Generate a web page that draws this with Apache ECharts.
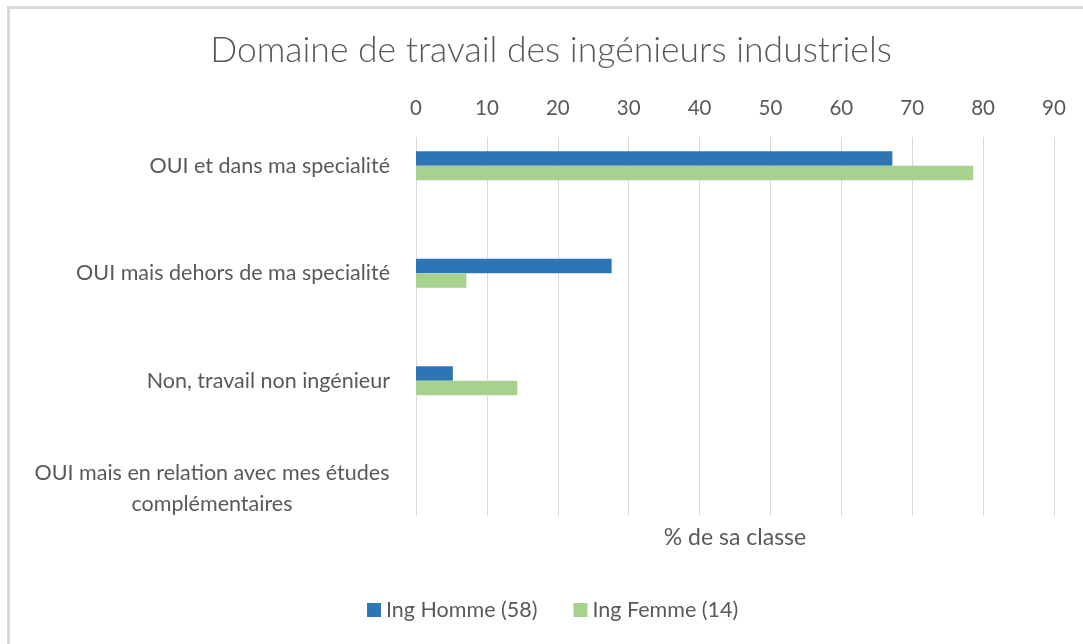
<!DOCTYPE html>
<html>
<head>
<meta charset="utf-8">
<script src="https://cdn.jsdelivr.net/npm/echarts@6/dist/echarts.min.js"></script>
<style>
html,body{margin:0;padding:0;background:#fff;}
#frame{position:absolute;left:7px;top:6px;width:1100px;height:700px;border-left:3px solid #d9d9d9;border-top:3px solid #d9d9d9;}
#chart{position:absolute;left:0;top:0;width:1083px;height:644px;}
</style>
</head>
<body>
<div id="frame"></div>
<div id="chart"></div>
<script>
const titleText = 'Domaine de travail des ingénieurs industriels';
const categories = [
  'OUI et dans ma specialité',
  'OUI mais dehors de ma specialité',
  'Non, travail non ingénieur',
  'OUI mais en relation avec mes études\ncomplémentaires'
];
const seriesNames = ['Ing Homme (58)', 'Ing Femme (14)'];
const homme = [67.2, 27.6, 5.2, 0];
const femme = [78.6, 7.1, 14.3, 0];
const axisMin = 0, axisMax = 90, axisStep = 10;
const axisName = '% de sa classe';

const FONT = 'Lato';
const TXT = '#595959';
const chart = echarts.init(document.getElementById('chart'), null, {renderer: 'canvas'});
chart.setOption({
  backgroundColor: 'transparent',
  animation: false,
  title: {
    text: titleText,
    left: 546, top: 28, textAlign: 'center',
    textStyle: {fontFamily: FONT, fontWeight: 300, fontSize: 35.5, color: TXT}
  },
  legend: {
    left: 362, top: 594,
    itemWidth: 14, itemHeight: 14, itemGap: 36,
    icon: 'rect',
    textStyle: {fontFamily: FONT, fontSize: 21.5, color: TXT},
    data: seriesNames
  },
  grid: [
    {left: 416, right: 29, top: 137, bottom: 128},
    {left: 416, right: 29, top: 112, bottom: 102}
  ],
  xAxis: [
    {gridIndex: 0, type: 'value', position: 'top', min: axisMin, max: axisMax, interval: axisStep,
     axisLine: {show: false}, axisTick: {show: false},
     axisLabel: {margin: 18, fontFamily: FONT, fontSize: 20.5, color: TXT},
     splitLine: {lineStyle: {color: '#d9d9d9', width: 1}}},
    {gridIndex: 0, type: 'value', position: 'bottom', min: axisMin, max: axisMax, interval: axisStep,
     axisLine: {show: false}, axisTick: {show: false}, axisLabel: {show: false}, splitLine: {show: false},
     name: axisName, nameLocation: 'middle', nameGap: 10,
     nameTextStyle: {fontFamily: FONT, fontSize: 23, color: TXT}},
    {gridIndex: 1, type: 'value', min: axisMin, max: axisMax, interval: axisStep, show: false}
  ],
  yAxis: [
    {gridIndex: 0, type: 'category', data: categories, show: false},
    {gridIndex: 1, type: 'category', data: categories, inverse: true,
     axisLine: {show: false}, axisTick: {show: false},
     axisLabel: {margin: 26, fontFamily: FONT, fontSize: 21.5, color: TXT,
       formatter: function (v) {
         const lines = v.split('\n');
         if (lines.length === 1) return '{r|' + v + '}';
         return lines.map(function (s) { return '{c|' + s + '}'; }).join('\n');
       },
       rich: {
         r: {fontFamily: FONT, fontSize: 21.5, color: TXT, lineHeight: 31},
         c: {fontFamily: FONT, fontSize: 21.5, color: TXT, width: 356, align: 'center', lineHeight: 31}
       }
     }}
  ],
  series: [
    {name: seriesNames[0], type: 'bar', xAxisIndex: 2, yAxisIndex: 1, data: homme,
     barWidth: 14.5, barGap: '0%', itemStyle: {color: '#2e75b6'}},
    {name: seriesNames[1], type: 'bar', xAxisIndex: 2, yAxisIndex: 1, data: femme,
     barWidth: 14.5, barGap: '0%', itemStyle: {color: '#a9d18e'}}
  ]
});
</script>
</body>
</html>
